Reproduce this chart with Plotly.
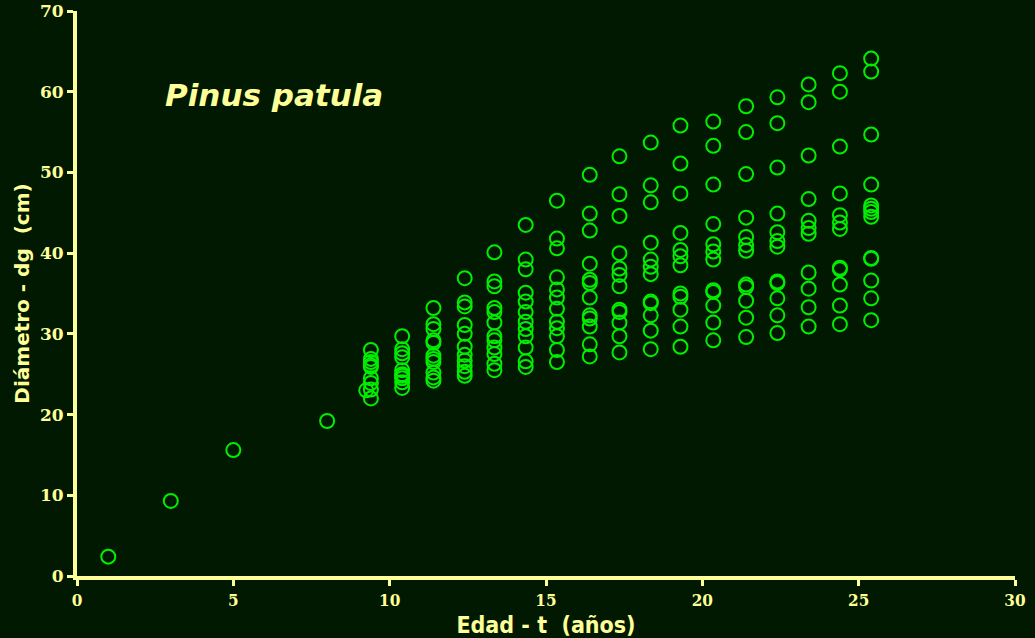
import plotly.graph_objects as go

# edad (años) y diámetro dg (cm)
edad = (
    [1, 3, 5, 8, 9.25]
    + [9.4] * 9
    + [10.4] * 10
    + [11.4] * 11
    + [12.4] * 11
    + [13.35] * 12
    + [14.35] * 12
    + [15.35] * 12
    + [16.4] * 12
    + [17.35] * 12
    + [18.35] * 12
    + [19.3] * 12
    + [20.35] * 12
    + [21.4] * 12
    + [22.4] * 12
    + [23.4] * 11
    + [24.4] * 12
    + [25.4] * 13
)

diametro = (
    [2.4, 9.3, 15.6, 19.2, 23.0]
    + [28.0, 26.9, 26.5, 26.1, 25.9, 24.5, 23.9, 23.1, 22.0]
    + [29.7, 28.1, 27.6, 27.1, 25.5, 25.0, 24.5, 24.0, 23.3, 24.8]
    + [33.2, 31.2, 30.6, 29.2, 28.9, 27.3, 26.9, 26.5, 25.2, 24.6, 24.2]
    + [36.9, 33.9, 33.4, 31.1, 30.0, 28.4, 27.4, 26.7, 26.0, 25.3, 24.8]
    + [40.1, 36.5, 35.9, 33.2, 32.7, 31.4, 29.7, 29.2, 28.3, 27.5, 26.3, 25.5]
    + [43.5, 39.2, 38.0, 35.1, 34.0, 32.7, 31.5, 30.6, 29.7, 28.3, 26.6, 25.9]
    + [46.5, 41.8, 40.6, 37.0, 35.5, 34.5, 33.1, 31.5, 30.7, 29.7, 28.0, 26.5]
    + [49.7, 44.9, 42.8, 38.7, 36.7, 36.3, 34.5, 32.3, 31.9, 30.9, 28.7, 27.2]
    + [52.0, 47.3, 44.6, 40.0, 38.1, 37.3, 35.9, 33.0, 32.7, 31.4, 29.7, 27.7]
    + [53.7, 48.4, 46.3, 41.3, 39.2, 38.3, 37.4, 34.0, 33.8, 32.3, 30.4, 28.1]
    + [55.8, 51.1, 47.4, 42.5, 40.4, 39.6, 38.5, 35.0, 34.6, 33.0, 30.9, 28.4]
    + [56.3, 53.3, 48.5, 43.6, 41.1, 40.2, 39.2, 35.4, 35.2, 33.5, 31.4, 29.2]
    + [58.2, 55.0, 49.8, 44.4, 42.0, 41.0, 40.3, 36.1, 35.8, 34.1, 32.0, 29.6]
    + [59.3, 56.1, 50.6, 44.9, 42.6, 41.5, 40.8, 36.5, 36.3, 34.4, 32.3, 30.1]
    + [60.9, 58.7, 52.1, 46.7, 44.0, 43.1, 42.4, 37.6, 35.6, 33.3, 30.9]
    + [62.3, 60.0, 53.2, 47.4, 44.7, 43.8, 43.0, 38.2, 38.0, 36.1, 33.5, 31.2]
    + [64.1, 62.5, 54.7, 48.5, 45.9, 45.5, 45.1, 44.5, 39.4, 39.3, 36.6, 34.4, 31.7]
)

bg = "#001900"
amarillo = "#ffff99"

fig = go.Figure(go.Scatter(
    x=edad, y=diametro, mode="markers",
    marker=dict(symbol="circle-open", size=14, color="#00ee00", line=dict(width=2, color="#00ee00")),
))

fig.add_annotation(
    text="<b><i>Pinus patula</i></b>", x=2.75, y=59.6, xref="x", yref="y",
    xanchor="left", yanchor="middle", showarrow=False,
    font=dict(family="DejaVu Sans", size=31, color=amarillo),
)

fig.update_xaxes(
    range=[0, 30], tickvals=[0, 5, 10, 15, 20, 25, 30], automargin=False,
    showline=True, linewidth=4, linecolor=amarillo, showgrid=False, zeroline=False,
    ticks="outside", ticklen=6, tickwidth=3, tickcolor=amarillo,
    tickfont=dict(family="DejaVu Serif Condensed", size=17, color=amarillo, weight="bold"),
    title=dict(text="Edad - t\u00a0 (años)", standoff=8,
               font=dict(family="DejaVu Sans Condensed", size=23, color=amarillo, weight="bold")),
)
fig.update_yaxes(
    range=[0, 70], tickvals=[0, 10, 20, 30, 40, 50, 60, 70], automargin=False,
    showline=True, linewidth=4, linecolor=amarillo, showgrid=False, zeroline=False,
    ticks="outside", ticklen=6, tickwidth=3, tickcolor=amarillo,
    tickfont=dict(family="DejaVu Serif", size=17, color=amarillo, weight="bold"),
    title=dict(text="Diámetro - dg\u00a0 (cm)", standoff=6,
               font=dict(family="DejaVu Sans", size=20, color=amarillo, weight="bold")),
)

fig.update_layout(
    width=1035, height=638, showlegend=False,
    paper_bgcolor=bg, plot_bgcolor=bg,
    margin=dict(l=77, r=20, t=11, b=62),
)

fig.write_html(
    "out.html",
    config={"displayModeBar": False},
    post_script="document.body.style.margin='0';document.body.style.background='%s';" % bg,
)
